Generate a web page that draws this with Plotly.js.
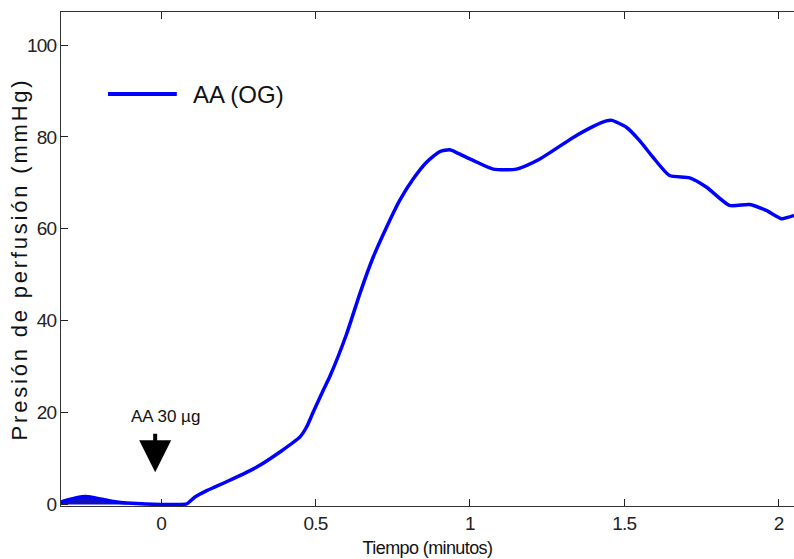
<!DOCTYPE html>
<html>
<head>
<meta charset="utf-8">
<script src="https://cdn.plot.ly/plotly-3.0.1.min.js"></script>
<style>
html,body{margin:0;padding:0;background:#fff;}
#chart{width:794px;height:559px;}
#chart .ytitle{letter-spacing:2.8px;}
#chart .xtick text, #chart .ytick text{letter-spacing:-0.8px;}
#chart .xtitle{letter-spacing:-0.6px;}
</style>
</head>
<body>
<div id="chart"></div>
<script>
// Time (minutes)
const tiempo = [-0.324, -0.30, -0.27, -0.246, -0.22, -0.19, -0.16, -0.13, -0.11, -0.05, 0.0, 0.05, 0.083,
  0.11, 0.148, 0.175, 0.234, 0.290, 0.320, 0.385, 0.450, 0.471, 0.493, 0.525, 0.547, 0.601, 0.644,
  0.687, 0.730, 0.773, 0.817, 0.860, 0.903, 0.935, 0.957, 1.011, 1.076, 1.151, 1.227, 1.335, 1.400,
  1.442, 1.46, 1.507, 1.550, 1.593, 1.647, 1.712, 1.766, 1.841, 1.906, 1.960, 2.009, 2.05];
// Perfusion pressure (mmHg)
const presion = [0.5, 1.0, 1.5, 1.7, 1.5, 1.1, 0.7, 0.4, 0.3, 0.1, 0, 0, 0.1,
  1.6, 3.0, 3.8, 5.6, 7.4, 8.5, 11.4, 14.7, 16.8, 20.1, 24.8, 27.9, 37.1, 45.9,
  53.8, 60.3, 66.2, 70.9, 74.5, 76.8, 77.2, 76.6, 74.9, 73.0, 73.0, 75.2, 79.9, 82.3,
  83.5, 83.6, 82.1, 79.2, 75.6, 71.6, 71.1, 69.1, 65.1, 65.3, 64.0, 62.2, 62.9];
// Noisy baseline segment (drawn filled)
const tiempoBase = [-0.324, -0.30, -0.27, -0.246, -0.22, -0.19, -0.16, -0.13, -0.11];
const presionBase = [0.5, 1.0, 1.5, 1.7, 1.5, 1.1, 0.7, 0.4, 0.3];

const serieNombre = 'AA (OG)';
const xTicks = [0, 0.5, 1, 1.5, 2];
const xTickText = ['0', '0.5', '1', '1.5', '2'];
const yTicks = [0, 20, 40, 60, 80, 100];
const dosis = 'AA 30 µg';
const dosisTiempo = -0.019;

const regular = '"Liberation Sans", Arial, sans-serif';

const traces = [
  {x: tiempoBase, y: presionBase, type: 'scatter', mode: 'lines', fill: 'tozeroy',
   fillcolor: '#1010c0', line: {color: '#1010c0', width: 2, shape: 'spline'}, showlegend: false, hoverinfo: 'skip'},
  {x: tiempo, y: presion, type: 'scatter', mode: 'lines', name: serieNombre,
   line: {color: '#0000ff', width: 3.5, shape: 'spline', smoothing: 0.6}, showlegend: false}
];

const layout = {
  width: 794, height: 559,
  margin: {l: 61, r: 0, t: 12, b: 53, pad: 0},
  paper_bgcolor: '#ffffff', plot_bgcolor: '#ffffff',
  showlegend: false,
  xaxis: {
    range: [-0.324, 2.05], tickvals: xTicks, ticktext: xTickText,
    ticks: 'inside', ticklen: 7, tickcolor: '#222', tickwidth: 1,
    showline: true, linecolor: '#333', linewidth: 1, mirror: 'ticks',
    showgrid: false, zeroline: false,
    tickfont: {family: regular, size: 19, color: '#222'},
    title: {text: 'Tiempo (minutos)', font: {family: regular, size: 18, color: '#111'}, standoff: 8}
  },
  yaxis: {
    range: [-0.35, 107.2], tickvals: yTicks,
    ticks: 'inside', ticklen: 7, tickcolor: '#222', tickwidth: 1,
    showline: true, linecolor: '#333', linewidth: 1, mirror: false,
    showgrid: false, zeroline: false,
    tickfont: {family: regular, size: 19, color: '#222'},
    title: {text: 'Presión de perfusión (mmHg)', font: {family: regular, size: 22, color: '#111'}, standoff: 1}
  },
  shapes: [
    {type: 'line', xref: 'paper', yref: 'paper', x0: 0.0641, x1: 0.158, y0: 0.834, y1: 0.834,
     line: {color: '#0000ff', width: 4}}
  ],
  annotations: [
    {xref: 'paper', yref: 'paper', x: 0.178, y: 0.834, xanchor: 'left', yanchor: 'middle',
     text: serieNombre, showarrow: false, font: {family: regular, size: 24, color: '#111'}},
    {x: 0.013, y: 19.2, xref: 'x', yref: 'y', text: dosis, showarrow: false,
     font: {family: regular, size: 17, color: '#111'}},
    {x: dosisTiempo, y: 7.0, xref: 'x', yref: 'y', text: '', showarrow: true,
     ax: 0, ay: -40, arrowhead: 2, arrowsize: 1.6, arrowwidth: 4, arrowcolor: '#000'}
  ]
};

Plotly.newPlot('chart', traces, layout, {displayModeBar: false, staticPlot: true}).then(function () {
  const t = document.querySelector('#chart .ytitle');
  if (t) {
    const x = parseFloat(t.getAttribute('x')) + 7;
    const y = parseFloat(t.getAttribute('y'));
    t.setAttribute('x', x);
    t.setAttribute('transform', 'rotate(-90,' + x + ',' + y + ')');
  }
});
</script>
</body>
</html>
